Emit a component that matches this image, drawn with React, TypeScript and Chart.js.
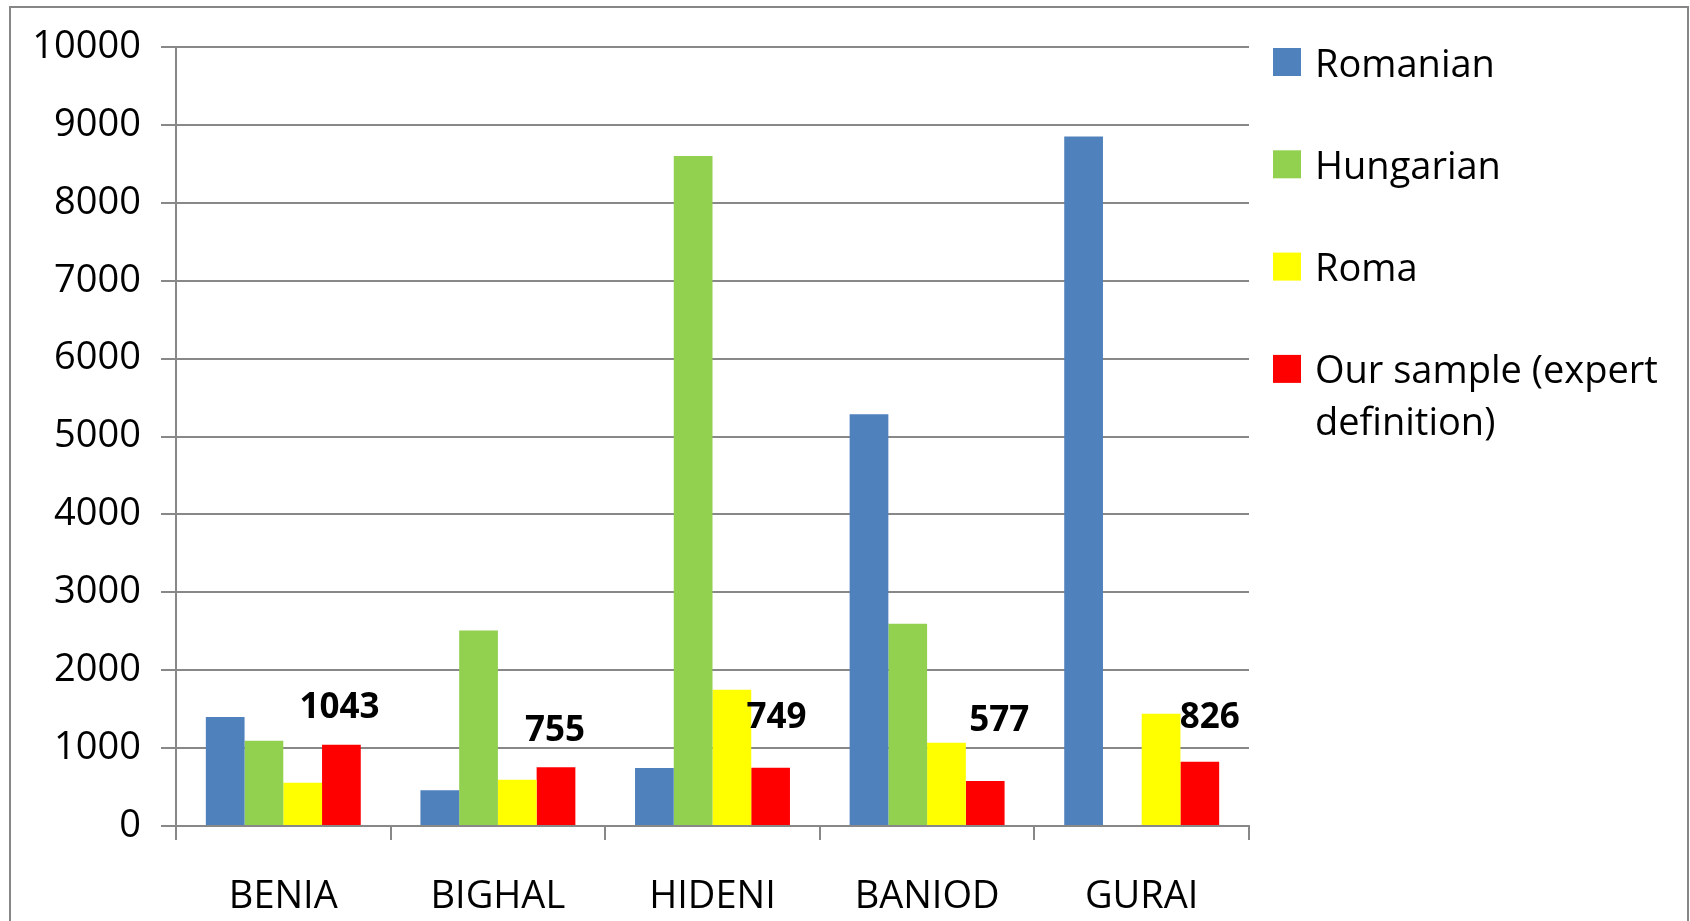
import React, { useEffect, useRef } from 'react';
import { Chart, registerables } from 'chart.js';

Chart.register(...registerables);

const categories = ['BENIA', 'BIGHAL', 'HIDENI', 'BANIOD', 'GURAI'];
const romanian = [1400, 460, 745, 5285, 8850];
const hungarian = [1095, 2510, 8600, 2595, 0];
const roma = [555, 595, 1750, 1070, 1440];
const ourSample = [1043, 755, 749, 577, 826];
const seriesNames = ['Romanian', 'Hungarian', 'Roma', 'Our sample (expert definition)'];
const legendLines = [['Romanian'], ['Hungarian'], ['Roma'], ['Our sample (expert', 'definition)']];
const seriesColors = ['#4F81BD', '#92D050', '#FFFF00', '#FF0000'];
// label nudges (px) relative to the top-centre of each red bar, as placed in the original
const labelDx = [-2, -1, 6, 14, 10];
const labelDy = [-39, -39, -52, -63, -46];

const FONT = '"Open Sans", "Noto Sans", sans-serif';

const frameAndLegend = {
  id: 'frameAndLegend',
  beforeDraw(chart: any) {
    const ctx = chart.ctx;
    ctx.save();
    ctx.fillStyle = '#ffffff';
    ctx.fillRect(0, 0, chart.width, chart.height);
    ctx.strokeStyle = '#868686';
    ctx.lineWidth = 2;
    ctx.beginPath();
    ctx.moveTo(10, chart.height + 5);
    ctx.lineTo(10, 7);
    ctx.lineTo(1688, 7);
    ctx.lineTo(1688, chart.height + 5);
    ctx.stroke();
    ctx.restore();
  },
  afterDraw(chart: any) {
    const ctx = chart.ctx;
    ctx.save();
    ctx.font = `38px ${FONT}`;
    ctx.textAlign = 'left';
    ctx.textBaseline = 'alphabetic';
    chart.data.datasets.forEach((ds: any, i: number) => {
      const cy = 62 + i * 102.3;
      ctx.fillStyle = ds.backgroundColor;
      ctx.fillRect(1273, cy - 14, 28, 28);
      ctx.fillStyle = '#000000';
      legendLines[i].forEach((line, j) => {
        ctx.fillText(line, 1315, cy + 14.5 + j * 52);
      });
    });
    ctx.restore();
  },
};

const valueLabels = {
  id: 'valueLabels',
  afterDatasetsDraw(chart: any) {
    const ctx = chart.ctx;
    const meta = chart.getDatasetMeta(3);
    ctx.save();
    ctx.font = `bold 35px ${FONT}`;
    ctx.fillStyle = '#000000';
    ctx.textAlign = 'center';
    ctx.textBaseline = 'alphabetic';
    meta.data.forEach((bar: any, i: number) => {
      ctx.fillText(String(ourSample[i]), bar.x + labelDx[i], bar.y + labelDy[i] + 12.5);
    });
    ctx.restore();
  },
};

export default function App() {
  const ref = useRef<HTMLCanvasElement>(null);
  useEffect(() => {
    const values = [romanian, hungarian, roma, ourSample];
    const chart = new Chart(ref.current as HTMLCanvasElement, {
      type: 'bar',
      data: {
        labels: categories,
        datasets: seriesNames.map((name, i) => ({
          label: name,
          data: values[i],
          backgroundColor: seriesColors[i],
          borderWidth: 0,
          barPercentage: 1.0,
          categoryPercentage: 0.722,
        })),
      },
      options: {
        responsive: false,
        animation: false,
        devicePixelRatio: 1,
        layout: { padding: { left: 0, top: 47, right: 441, bottom: 0 } },
        plugins: {
          legend: { display: false },
          tooltip: { enabled: false },
        },
        scales: {
          x: {
            grid: { drawOnChartArea: false, tickLength: 14, color: '#888888', lineWidth: 2, offset: true },
            border: { color: '#888888', width: 2 },
            ticks: { font: { family: FONT, size: 38 }, color: '#000000', padding: 34 },
            afterFit: (s: any) => { s.height = 95; },
          },
          y: {
            min: 0,
            max: 10000,
            ticks: {
              stepSize: 1000,
              font: { family: FONT, size: 38 },
              color: '#000000',
              padding: 20,
              callback: (v: any) => String(v),
            },
            grid: { color: '#888888', lineWidth: 2, tickLength: 15 },
            border: { color: '#888888', width: 2 },
            afterFit: (s: any) => { s.width = 176; },
          },
        },
      },
      plugins: [frameAndLegend, valueLabels],
    } as any);
    return () => chart.destroy();
  }, []);
  return (
    <div style={{ position: 'absolute', left: 0, top: 0, width: 1690, height: 921, background: '#ffffff', overflow: 'hidden' }}>
      <canvas ref={ref} width={1690} height={921} style={{ display: 'block', width: 1690, height: 921 }} />
    </div>
  );
}
